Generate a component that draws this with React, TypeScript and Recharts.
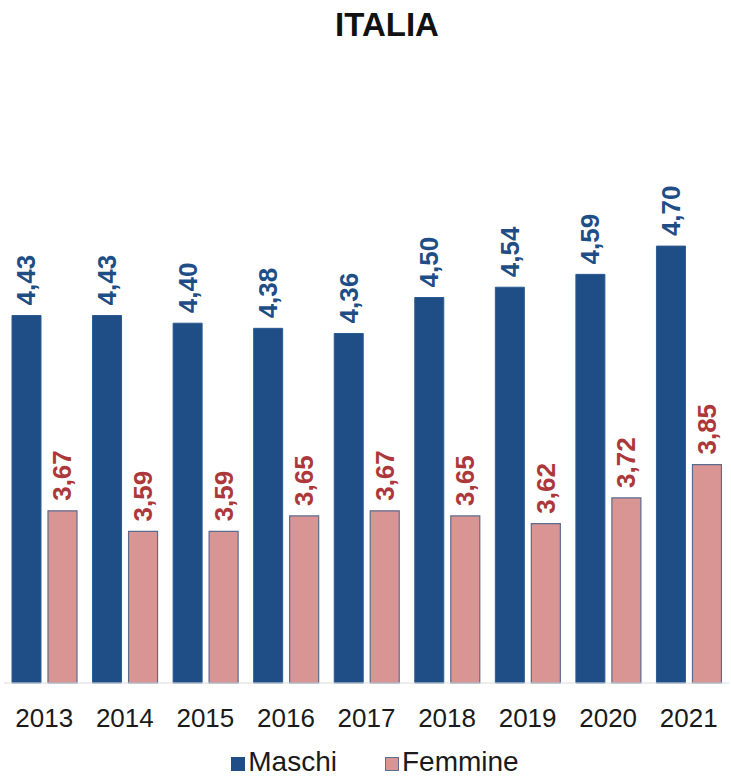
import { Bar, BarChart, LabelList, Legend, XAxis, YAxis } from "recharts";

const years = ["2013", "2014", "2015", "2016", "2017", "2018", "2019", "2020", "2021"];
const maschi = [4.43, 4.43, 4.4, 4.38, 4.36, 4.5, 4.54, 4.59, 4.7];
const femmine = [3.67, 3.59, 3.59, 3.65, 3.67, 3.65, 3.62, 3.72, 3.85];

const data = years.map((year, i) => ({ year, maschi: maschi[i], femmine: femmine[i] }));

const FONT = "'Liberation Sans', Arial, Helvetica, sans-serif";
const BLUE = "#1f4e86";
const PINK = "#d99594";
const PINK_EDGE = "#5d6b8e";

const fmt = (v: number) => v.toFixed(2).replace(".", ",");

// rotated value label sitting just above each bar
const makeLabel = (color: string) => (props: any) => {
  const { x, y, width, value } = props;
  const cx = Number(x) + Number(width) / 2;
  const cy = Number(y) - 10;
  return (
    <text
      x={cx}
      y={cy}
      transform={`rotate(-90, ${cx}, ${cy})`}
      textAnchor="start"
      dominantBaseline="central"
      fill={color}
      fontFamily={FONT}
      fontWeight="bold"
      fontSize={26}
    >
      {fmt(Number(value))}
    </text>
  );
};

const legendItems = [
  { name: "Maschi", fill: BLUE, stroke: BLUE },
  { name: "Femmine", fill: PINK, stroke: PINK_EDGE },
];

function LegendContent() {
  return (
    <div
      style={{
        display: "flex",
        justifyContent: "center",
        gap: 48,
        paddingLeft: 17,
        fontFamily: FONT,
        fontSize: 28,
        lineHeight: "32px",
        color: "#1a1a1a",
      }}
    >
      {legendItems.map((it) => (
        <span key={it.name}>
          <span
            style={{
              display: "inline-block",
              width: 14,
              height: 14,
              boxSizing: "border-box",
              background: it.fill,
              border: `1px solid ${it.stroke}`,
              marginRight: 3,
              verticalAlign: "baseline",
            }}
          />
          {it.name}
        </span>
      ))}
    </div>
  );
}

export default function App() {
  return (
    <div style={{ position: "absolute", left: 0, top: 0, width: 731, height: 778, background: "#fff" }}>
      <div
        style={{
          position: "absolute",
          top: 5,
          left: 0,
          width: 731,
          boxSizing: "border-box",
          paddingLeft: 43,
          textAlign: "center",
          fontFamily: FONT,
          fontWeight: "bold",
          fontSize: 33,
          lineHeight: "40px",
          color: "#111",
        }}
      >
        ITALIA
      </div>
      <BarChart
        width={731}
        height={778}
        data={data}
        margin={{ top: 169, right: 2, bottom: 4, left: 4 }}
        barCategoryGap={8}
        barGap={7}
      >
        <XAxis
          dataKey="year"
          height={61}
          tickLine={false}
          tickMargin={20}
          axisLine={{ stroke: "#dcdcdc" }}
          tick={{ fontSize: 26, fill: "#1a1a1a", fontFamily: FONT }}
          interval={0}
        />
        <YAxis hide domain={[3, 5]} />
        <Legend
          verticalAlign="bottom"
          height={30}
          content={<LegendContent />}
          wrapperStyle={{ top: 746 }}
        />
        <Bar dataKey="maschi" name="Maschi" fill={BLUE} stroke="#2a5a93" strokeWidth={1} isAnimationActive={false}>
          <LabelList dataKey="maschi" content={makeLabel("#1f4e86")} />
        </Bar>
        <Bar dataKey="femmine" name="Femmine" fill={PINK} stroke={PINK_EDGE} strokeWidth={1.2} isAnimationActive={false}>
          <LabelList dataKey="femmine" content={makeLabel("#ad383b")} />
        </Bar>
      </BarChart>
    </div>
  );
}
